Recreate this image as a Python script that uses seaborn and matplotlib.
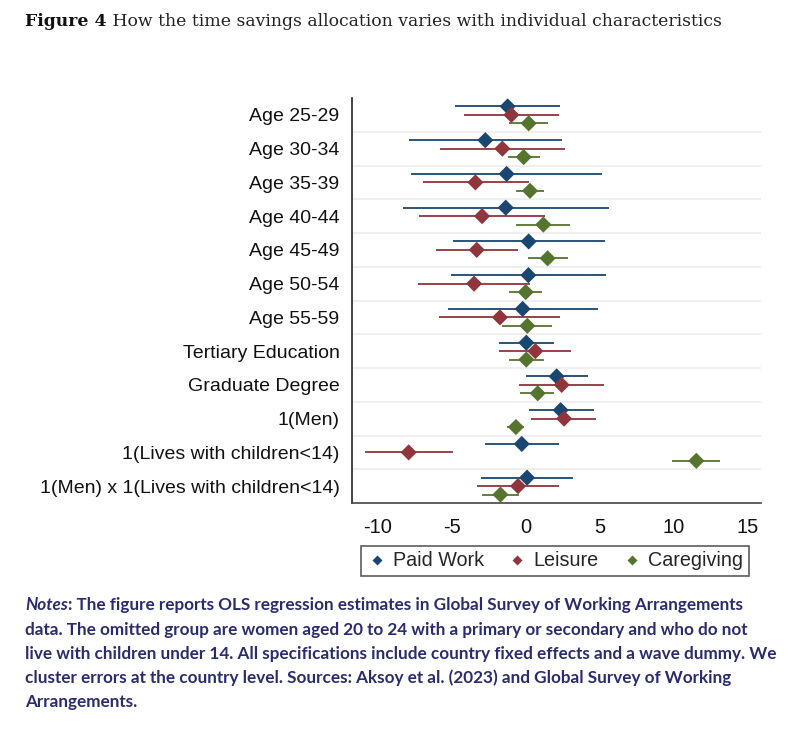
import matplotlib
matplotlib.use("Agg")
import matplotlib.pyplot as plt
import seaborn as sns
import pandas as pd
import numpy as np
from matplotlib.lines import Line2D

categories = ["Age 25-29", "Age 30-34", "Age 35-39", "Age 40-44", "Age 45-49",
              "Age 50-54", "Age 55-59", "Tertiary Education", "Graduate Degree",
              "1(Men)", "1(Lives with children<14)",
              "1(Men) x 1(Lives with children<14)"]
series = ["Paid Work", "Leisure", "Caregiving"]

paid_est = [-1.24, -2.75, -1.31, -1.37, 0.18, 0.16, -0.23, 0.02, 2.07, 2.34, -0.29, 0.07]
paid_lo = [-4.77, -7.88, -7.77, -8.33, -4.93, -5.09, -5.25, -1.80, -0.02, 0.20, -2.75, -3.06]
paid_hi = [2.27, 2.43, 5.16, 5.61, 5.32, 5.43, 4.86, 1.87, 4.17, 4.57, 2.23, 3.18]

leis_est = [-0.99, -1.60, -3.42, -2.97, -3.33, -3.51, -1.76, 0.63, 2.41, 2.57, -7.93, -0.54]
leis_lo = [-4.17, -5.81, -6.98, -7.23, -6.06, -7.27, -5.86, -1.82, -0.47, 0.36, -10.88, -3.29]
leis_hi = [2.21, 2.64, 0.20, 1.31, -0.54, 0.25, 2.32, 3.06, 5.29, 4.75, -4.95, 2.21]

care_est = [0.18, -0.16, 0.27, 1.17, 1.46, -0.02, 0.09, 0.02, 0.79, -0.68, 11.51, -1.73]
care_lo = [-1.13, -1.19, -0.65, -0.68, 0.11, -1.13, -1.60, -1.17, -0.38, -1.26, 9.84, -2.95]
care_hi = [1.46, 0.95, 1.22, 3.00, 2.82, 1.10, 1.78, 1.19, 1.91, -0.11, 13.13, -0.50]

x_ticks = [-10, -5, 0, 5, 10, 15]

colors = {"Paid Work": "#1a476f", "Leisure": "#90353b", "Caregiving": "#55752f"}
offsets = {"Paid Work": -0.25, "Leisure": 0.0, "Caregiving": 0.25}

rows = []
for s, est, lo, hi in [("Paid Work", paid_est, paid_lo, paid_hi),
                       ("Leisure", leis_est, leis_lo, leis_hi),
                       ("Caregiving", care_est, care_lo, care_hi)]:
    for i, c in enumerate(categories):
        rows.append({"category": c, "series": s, "est": est[i], "lo": lo[i],
                     "hi": hi[i], "ypos": i + offsets[s]})
df = pd.DataFrame(rows)

sns.set_style("white")
plt.rcParams["font.family"] = ["Liberation Sans", "DejaVu Sans"]

fig = plt.figure(figsize=(7.88, 7.46), dpi=100)
ax = fig.add_axes([352 / 788, 1 - 503 / 746, (761 - 352) / 788, (503 - 98) / 746])

# gridlines between rows
for i in range(len(categories) - 1):
    ax.axhline(i + 0.5, color="#efefef", lw=1.5, zorder=0)

for s in series:
    d = df[df.series == s]
    ax.hlines(d["ypos"], d["lo"], d["hi"], colors=colors[s], lw=1.3, zorder=2)

sns.scatterplot(data=df, x="est", y="ypos", hue="series", palette=colors,
                hue_order=series, marker="D", s=68, edgecolor="none",
                ax=ax, legend=False, zorder=3)

ax.set_xlim(-11.76, 15.88)
ax.set_ylim(len(categories) - 0.5, -0.5)
ax.set_yticks(range(len(categories)))
ax.set_yticklabels(categories, fontsize=14)
ax.set_xticks(x_ticks)
ax.set_xticklabels([str(t) for t in x_ticks], fontsize=14.5)
ax.set_xlabel("")
ax.set_ylabel("")
for sp in ["top", "right"]:
    ax.spines[sp].set_visible(False)
ax.spines["left"].set_color("#222222")
ax.spines["left"].set_linewidth(1.2)
ax.spines["bottom"].set_color("#444444")
ax.spines["bottom"].set_linewidth(1.2)
ax.tick_params(axis="y", length=6, width=1, color="#222222", pad=3, labelcolor="#111111")
ax.tick_params(axis="x", length=6, width=1, color="#444444", pad=5, labelcolor="#111111")

handles = [Line2D([0], [0], marker="D", linestyle="none", markersize=5.5,
                  markerfacecolor=colors[s], markeredgecolor="none", label=s)
           for s in series]
leg = fig.legend(handles=handles, loc="center", ncol=3,
                 bbox_to_anchor=(555 / 788, 1 - 561 / 746), fontsize=14.2,
                 frameon=True, fancybox=False, edgecolor="#333333",
                 handletextpad=0.3, columnspacing=1.2, borderpad=0.3,
                 handlelength=1.0)
leg.get_frame().set_linewidth(1.2)

# Title
t1 = fig.text(25 / 788, 1 - 21 / 746, "Figure 4", fontsize=12.4, fontweight="bold",
              family=["DejaVu Serif"], va="center", ha="left", color="#111111")
ax.annotate(" How the time savings allocation varies with individual characteristics",
            xy=(1, 0), xycoords=t1, va="bottom", ha="left", fontsize=12.4,
            family=["DejaVu Serif"], color="#222222", annotation_clip=False)

# Notes
note_color = "#2b2c6e"
note_fs = 12.3
note_family = ["Lato", "DejaVu Sans"]
line_ys = [605, 630, 654, 678, 702]
n0 = fig.text(25 / 788, 1 - line_ys[0] / 746, "Notes", fontsize=note_fs,
              fontweight="bold", style="italic", family=note_family,
              color=note_color, va="center", ha="left")
ax.annotate(": The figure reports OLS regression estimates in Global Survey of Working Arrangements",
            xy=(1, 0), xycoords=n0, va="bottom", ha="left", fontsize=note_fs,
            fontweight="bold", family=note_family, color=note_color,
            annotation_clip=False)
other_lines = [
    "data. The omitted group are women aged 20 to 24 with a primary or secondary and who do not",
    "live with children under 14. All specifications include country fixed effects and a wave dummy. We",
    "cluster errors at the country level. Sources: Aksoy et al. (2023) and Global Survey of Working",
    "Arrangements.",
]
for y, line in zip(line_ys[1:], other_lines):
    fig.text(25 / 788, 1 - y / 746, line, fontsize=note_fs, fontweight="bold",
             family=note_family, color=note_color, va="center", ha="left")

fig.savefig("out.png", dpi=100, facecolor="white")
